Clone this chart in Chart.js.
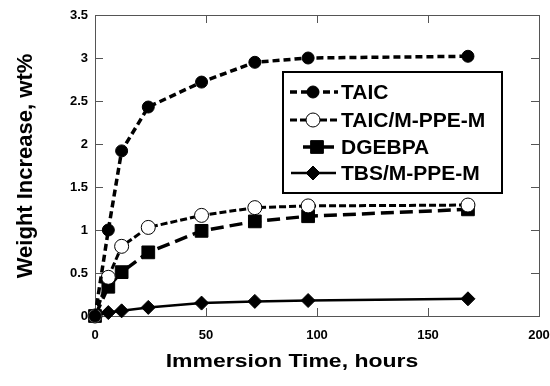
<!DOCTYPE html>
<html>
<head>
<meta charset="utf-8">
<script src="https://cdn.jsdelivr.net/npm/chart.js@4.4.1/dist/chart.umd.min.js"></script>
<style>
  body { margin: 0; background: #fff; }
  #wrap { width: 550px; height: 386px; }
</style>
</head>
<body>
<div id="wrap"><canvas id="uptake"></canvas></div>
<script>
// immersion times (hours) and weight gain (wt%) per resin
var hours = [0, 6, 12, 24, 48, 72, 96, 168];
var taic = [0, 1.0, 1.92, 2.43, 2.72, 2.95, 3.0, 3.02];
var taicPpe = [0, 0.45, 0.81, 1.03, 1.17, 1.26, 1.28, 1.29];
var dgebpa = [0, 0.34, 0.51, 0.74, 0.99, 1.10, 1.16, 1.24];
var tbsPpe = [0, 0.04, 0.06, 0.10, 0.15, 0.17, 0.18, 0.20];
var seriesNames = ['TAIC', 'TAIC/M-PPE-M', 'DGEBPA', 'TBS/M-PPE-M'];
var xTicks = [0, 50, 100, 150, 200];
var yTicks = [0, 0.5, 1, 1.5, 2, 2.5, 3, 3.5];

var FONT = "'Liberation Sans', Arial, sans-serif";
Chart.defaults.font.family = FONT;
Chart.defaults.color = '#000';

function pts(vals) {
  return hours.map(function (h, i) { return { x: h, y: vals[i] }; });
}

var styles = [
  { dash: [7, 4], width: 3.5, pointStyle: 'circle', radius: 6, fill: '#000', bw: 1 },
  { dash: [7, 3], width: 3, pointStyle: 'circle', radius: 7, fill: '#fff', bw: 1 },
  { dash: [13, 6], width: 3.5, pointStyle: 'rect', radius: 9, fill: '#000', bw: 1 },
  { dash: [], width: 2.5, pointStyle: 'rectRot', radius: 7, fill: '#000', bw: 1 }
];
var values = [taic, taicPpe, dgebpa, tbsPpe];

var datasets = values.map(function (v, i) {
  var s = styles[i];
  return {
    label: seriesNames[i],
    data: pts(v),
    borderColor: '#000',
    borderWidth: s.width,
    borderDash: s.dash,
    pointStyle: s.pointStyle,
    pointRadius: s.radius,
    pointHoverRadius: s.radius,
    pointBackgroundColor: s.fill,
    pointBorderColor: '#000',
    pointBorderWidth: s.bw,
    tension: 0,
    clip: false
  };
});

// box + inward tick marks on all four sides
var frame = {
  id: 'frame',
  beforeDatasetsDraw: function (chart) {
    var a = chart.chartArea, ctx = chart.ctx;
    var xs = chart.scales.x, ys = chart.scales.y;
    ctx.save();
    ctx.strokeStyle = '#555';
    ctx.lineWidth = 1;
    ctx.strokeRect(a.left + 0.5, a.top + 0.5, a.right - a.left, a.bottom - a.top);
    ctx.beginPath();
    xTicks.forEach(function (t) {
      var px = Math.round(xs.getPixelForValue(t)) + 0.5;
      ctx.moveTo(px, a.bottom); ctx.lineTo(px, a.bottom - 8);
      ctx.moveTo(px, a.top); ctx.lineTo(px, a.top + 8);
    });
    yTicks.forEach(function (t) {
      var py = Math.round(ys.getPixelForValue(t)) + 0.5;
      ctx.moveTo(a.left, py); ctx.lineTo(a.left + 8, py);
      ctx.moveTo(a.right, py); ctx.lineTo(a.right - 8, py);
    });
    ctx.stroke();
    ctx.restore();
  }
};

// boxed legend with line + marker samples
var boxLegend = {
  id: 'boxLegend',
  afterDatasetsDraw: function (chart) {
    var ctx = chart.ctx;
    var rows = [92, 120, 147, 173];
    var lines = [[290, 338, 313], [290, 338, 313], [303, 334, 317], [291, 336, 313]];
    ctx.save();
    ctx.fillStyle = '#fff';
    ctx.fillRect(283, 72, 219, 121);
    ctx.strokeStyle = '#000';
    ctx.lineWidth = 2;
    ctx.strokeRect(283, 72, 219, 121);
    chart.data.datasets.forEach(function (ds, i) {
      var y = rows[i], l = lines[i], s = styles[i];
      ctx.save();
      ctx.strokeStyle = '#000';
      ctx.lineWidth = s.width;
      ctx.setLineDash(s.dash);
      ctx.beginPath();
      ctx.moveTo(l[0], y); ctx.lineTo(l[1], y);
      ctx.stroke();
      ctx.setLineDash([]);
      ctx.fillStyle = s.fill;
      ctx.strokeStyle = '#000';
      ctx.lineWidth = s.bw;
      Chart.helpers.drawPoint(ctx, { pointStyle: s.pointStyle, radius: s.radius, rotation: 0, borderWidth: s.bw }, l[2], y);
      ctx.restore();
      ctx.fillStyle = '#000';
      ctx.font = 'bold 21px ' + FONT;
      ctx.textBaseline = 'middle';
      ctx.fillText(ds.label, 341, y + 1);
    });
    ctx.restore();
  }
};

// axis titles
var titles = {
  id: 'titles',
  afterDraw: function (chart) {
    var ctx = chart.ctx;
    ctx.save();
    ctx.fillStyle = '#000';
    ctx.textAlign = 'center';
    ctx.textBaseline = 'alphabetic';
    ctx.font = 'bold 23px ' + FONT;
    ctx.save();
    ctx.translate(292, 367);
    ctx.scale(1, 0.8);
    ctx.fillText('Immersion Time, hours', 0, 0);
    ctx.restore();
    ctx.font = 'bold 22px ' + FONT;
    ctx.translate(32, 166);
    ctx.rotate(-Math.PI / 2);
    ctx.fillText('Weight Increase, wt%', 0, 0);
    ctx.restore();
  }
};

function plainNum(v) { return String(v); }

new Chart(document.getElementById('uptake'), {
  type: 'line',
  data: { datasets: datasets },
  plugins: [frame, boxLegend, titles],
  options: {
    responsive: true,
    maintainAspectRatio: false,
    animation: false,
    events: [],
    layout: { autoPadding: false, padding: { left: 0, top: 15, right: 11, bottom: 0 } },
    plugins: { legend: { display: false }, tooltip: { enabled: false } },
    scales: {
      x: {
        type: 'linear',
        min: 0,
        max: 200,
        afterFit: function (s) { s.height = 70; s.paddingLeft = 0; s.paddingRight = 0; },
        afterBuildTicks: function (s) { s.ticks = xTicks.map(function (v) { return { value: v }; }); },
        grid: { display: false, drawTicks: false },
        border: { display: false },
        ticks: { padding: 12, font: { size: 13, weight: 'bold' }, maxRotation: 0, callback: plainNum }
      },
      y: {
        min: 0,
        max: 3.5,
        afterFit: function (s) { s.width = 95; s.paddingTop = 0; s.paddingBottom = 0; },
        afterBuildTicks: function (s) { s.ticks = yTicks.map(function (v) { return { value: v }; }); },
        grid: { display: false, drawTicks: false },
        border: { display: false },
        ticks: { padding: 7, font: { size: 13, weight: 'bold' }, callback: plainNum }
      }
    }
  }
});
</script>
</body>
</html>
